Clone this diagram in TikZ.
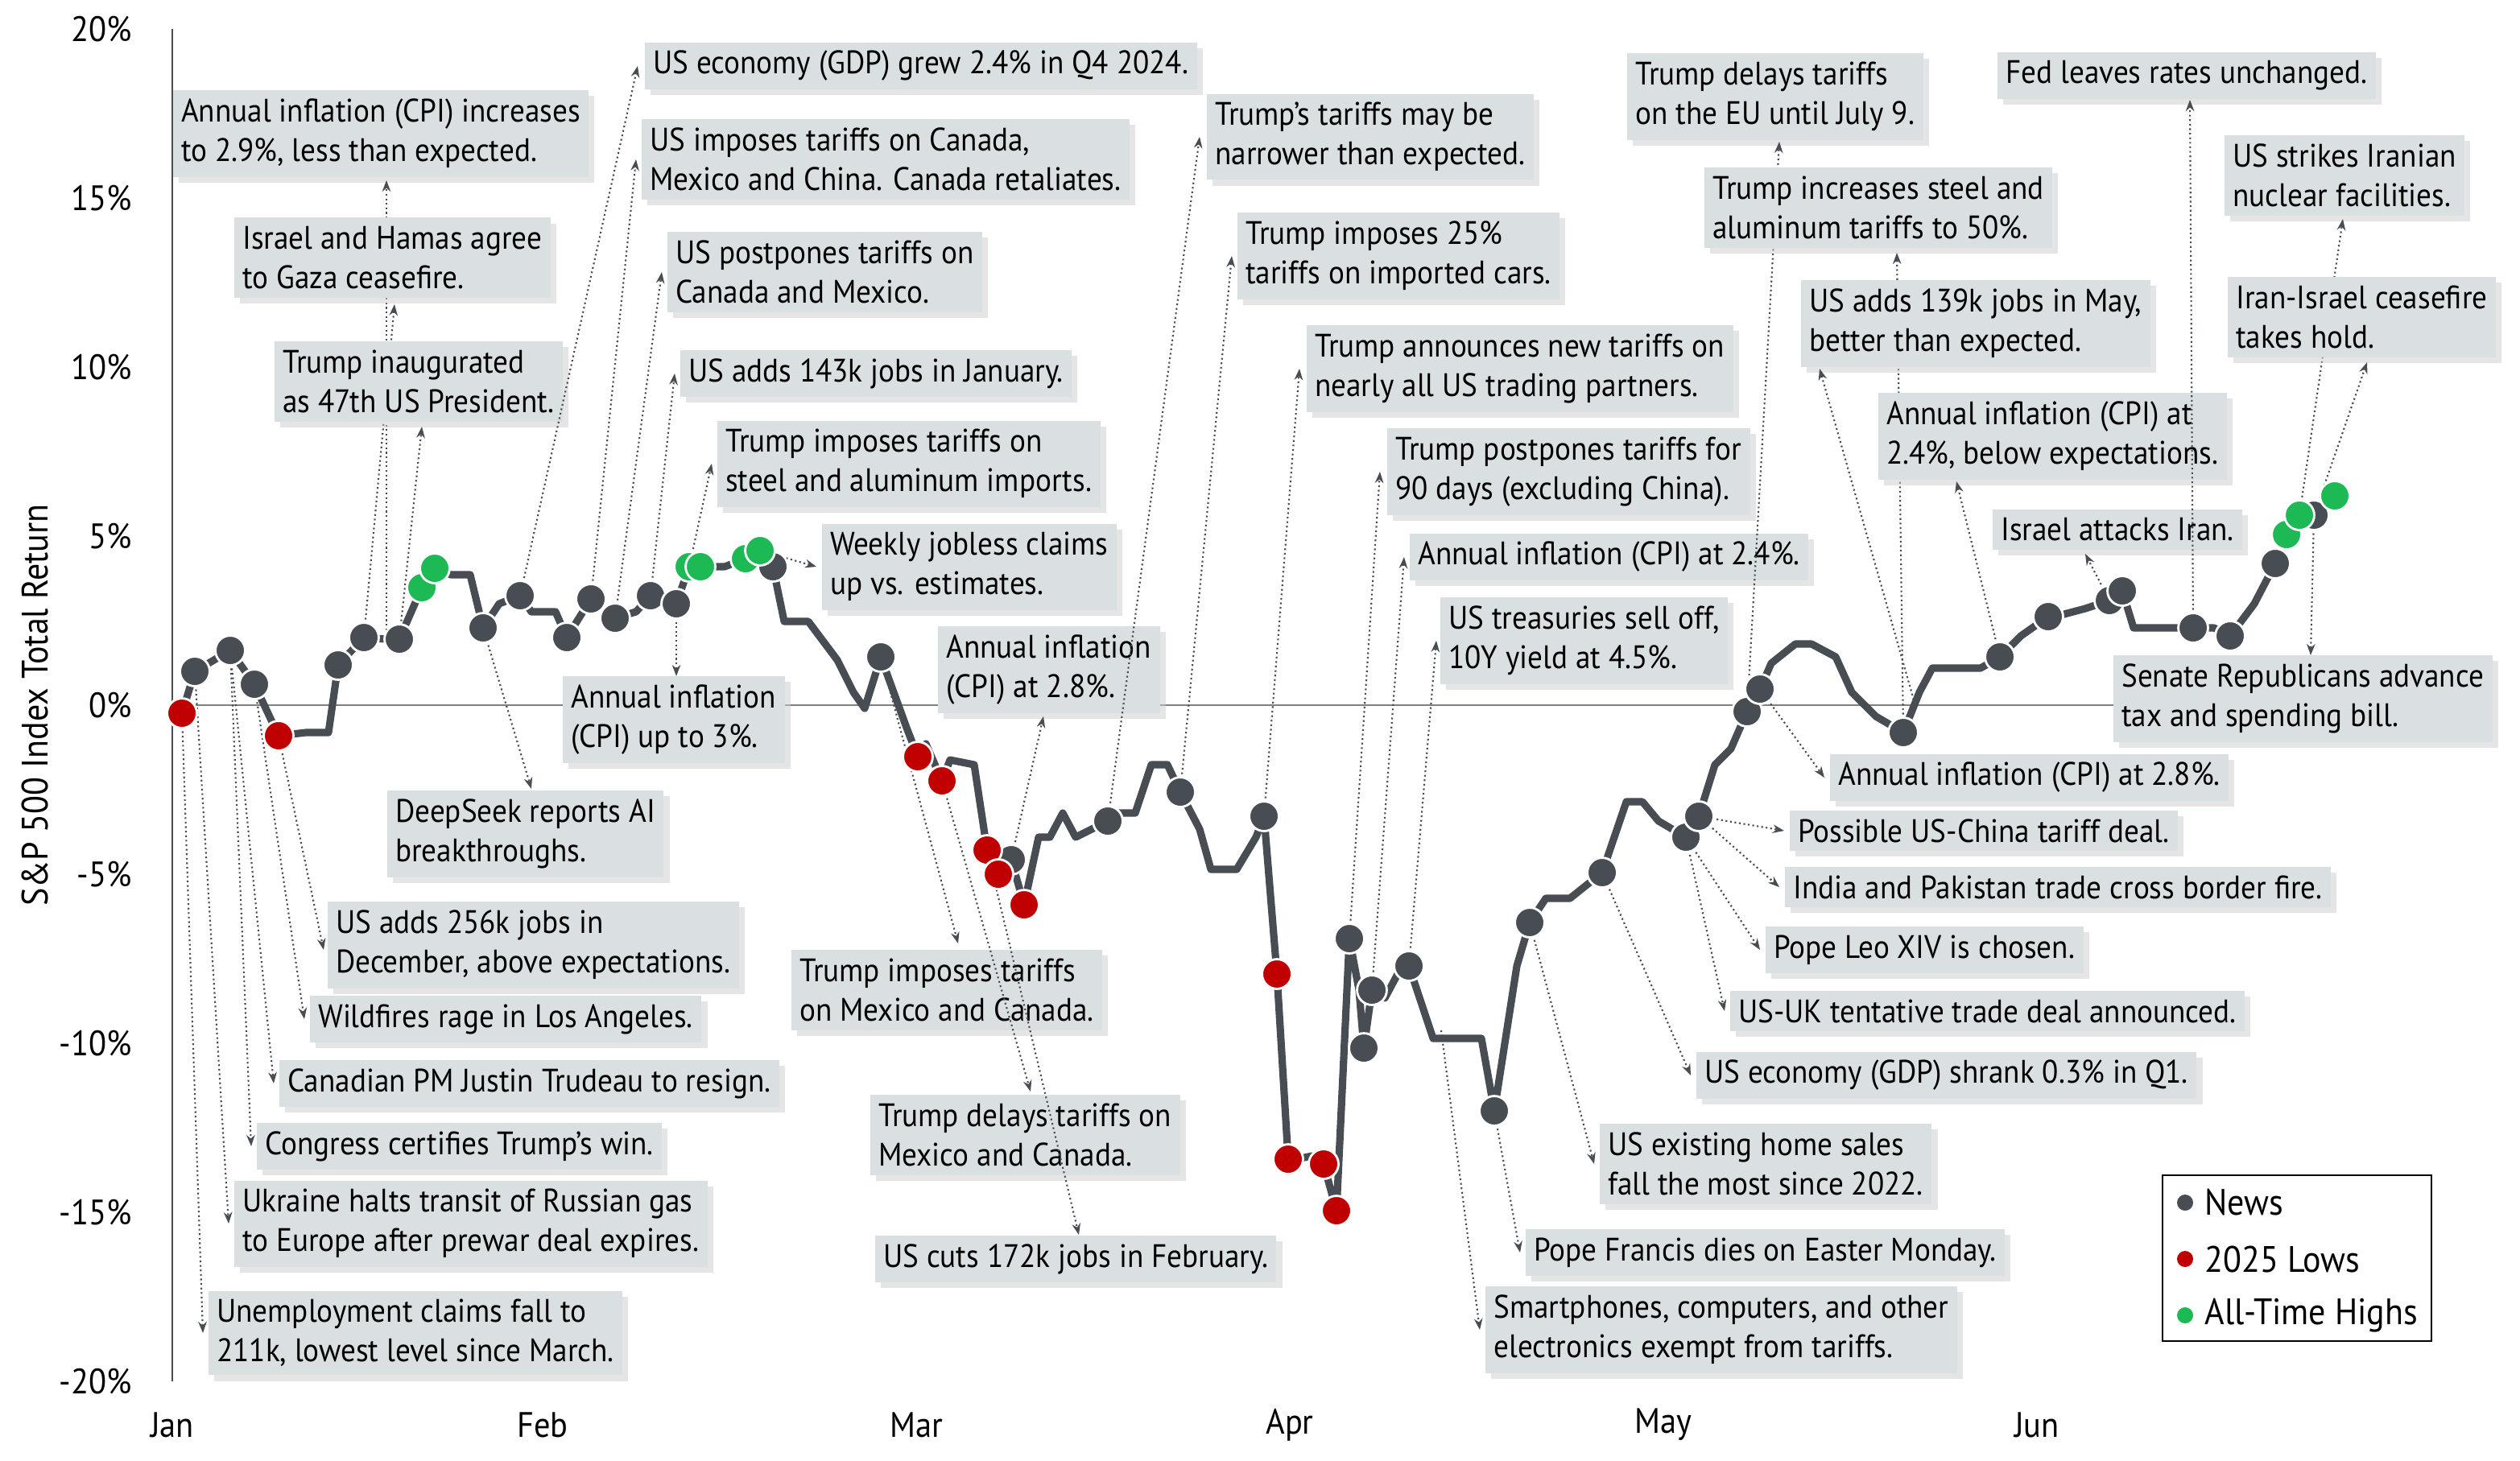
\documentclass[tikz,border=0pt]{standalone}
\usepackage{fontspec}
\setmainfont[FakeStretch=0.92]{PT Sans}
\usepackage{tikz}
\usetikzlibrary{shadows,arrows.meta}
\definecolor{boxgray}{HTML}{DADFE1}
\definecolor{linegray}{HTML}{474D52}
\definecolor{lowred}{HTML}{C00000}
\definecolor{highgreen}{HTML}{1DB954}
\tikzset{
  callout/.style={anchor=west, fill=boxgray, align=left, inner sep=3pt,
    font=\fontsize{11.5}{14}\selectfont, drop shadow={shadow xshift=2pt, shadow yshift=-2pt, fill=gray!40}},
  conn/.style={densely dotted, linegray, line width=0.6pt, -{Stealth[length=4pt]}},
  dotnews/.style={circle, fill=linegray, draw=white, line width=0.8pt, inner sep=0pt, minimum size=10.5pt},
  dotlow/.style={dotnews, fill=lowred},
  dothigh/.style={dotnews, fill=highgreen}
}
\begin{document}
\begin{tikzpicture}[x=0.02cm, y=-0.02cm]
    \useasboundingbox (0,0) rectangle (1565,907);
    % axes
    \draw[gray, line width=0.4pt] (107,438) -- (1480,438);
    \draw[linegray, line width=0.6pt] (107,18) -- (107,858);
    \foreach \v/\yy in {20/18, 15/123, 10/228, 5/333, 0/438, -5/543, -10/648, -15/753, -20/858}
      \node[anchor=east, font=\fontsize{12.5}{14}\selectfont] (t\v) at (88,\yy) {\v\%};
    \foreach \m/\xx in {Jan/107, Feb/337, Mar/569, Apr/801, May/1033, Jun/1265}
      \node[font=\fontsize{12.5}{14}\selectfont] (m\m) at (\xx,885) {\m};
    \node[rotate=90, font=\fontsize{13}{14}\selectfont] (ytitle) at (22,438) {S\&P 500 Index Total Return};

    % callouts
    \foreach \nm/\bx/\by/\txt/\dx/\dy/\ex/\ey in {
      a/107/83/{Annual inflation (CPI) increases\\to 2.9\%, less than expected.}/240/397/240/112,
      b/145/160/{Israel and Hamas agree\\to Gaza ceasefire.}/226/396/245/189,
      c/170/237/{Trump inaugurated\\as 47th US President.}/248/397/262/265,
      d/400/41/{US economy (GDP) grew 2.4\% in Q4 2024.}/323/370/396/41,
      e/398/99/{US imposes tariffs on Canada,\\Mexico and China. Canada retaliates.}/367/372/395/99,
      f/414/169/{US postpones tariffs on\\Canada and Mexico.}/382/384/411/169,
      g/422/232/{US adds 143k jobs in January.}/404/370/419/232,
      h/445/288/{Trump imposes tariffs on\\steel and aluminum imports.}/428/352/442/288,
      i/510/352/{Weekly jobless claims\\up vs. estimates.}/472/342/507/352,
      j/349/447/{Annual inflation\\(CPI) up to 3\%.}/420/375/420/420,
      k/240/518/{DeepSeek reports AI\\breakthroughs.}/300/390/330/490,
      l/582/416/{Annual inflation\\(CPI) at 2.8\%.}/628/534/648/445,
      n/749/85/{Trump's tariffs may be\\narrower than expected.}/688/510/745/85,
      o/768/159/{Trump imposes 25\%\\tariffs on imported cars.}/733/492/765/159,
      p/811/229/{Trump announces new tariffs on\\nearly all US trading partners.}/785/507/807/229,
      q/861/293/{Trump postpones tariffs for\\90 days (excluding China).}/838/583/857/293,
      r/875/346/{Annual inflation (CPI) at 2.4\%.}/852/615/872/346,
      s/894/398/{US treasuries sell off,\\10Y yield at 4.5\%.}/875/600/892/398,
      u/491/615/{Trump imposes tariffs\\on Mexico and Canada.}/547/408/595/586,
      v/540/705/{Trump delays tariffs on\\Mexico and Canada.}/585/485/640/678,
      w/543/782/{US cuts 172k jobs in February.}/613/528/670/767,
      x/203/587/{US adds 256k jobs in\\December, above expectations.}/173/457/201/590,
      y/192/633/{Wildfires rage in Los Angeles.}/158/425/189/633,
      z/173/673/{Canadian PM Justin Trudeau to resign.}/143/404/170/673,
      A/159/712/{Congress certifies Trump's win.}/143/404/156/712,
      B/145/760/{Ukraine halts transit of Russian gas\\to Europe after prewar deal expires.}/121/417/142/760,
      C/129/828/{Unemployment claims fall to\\211k, lowest level since March.}/113/443/126/828,
      D/922/826/{Smartphones, computers, and other\\electronics exempt from tariffs.}/895/640/919/826,
      E/947/778/{Pope Francis dies on Easter Monday.}/928/690/944/778,
      F/993/723/{US existing home sales\\fall the most since 2022.}/950/573/990/723,
      G/1053/668/{US economy (GDP) shrank 0.3\% in Q1.}/995/542/1050/668,
      H/1074/628/{US-UK tentative trade deal announced.}/1047/520/1071/628,
      I/1096/590/{Pope Leo XIV is chosen.}/1047/520/1093/590,
      J/1108/551/{India and Pakistan trade cross border fire.}/1055/507/1105/551,
      K/1111/516/{Possible US-China tariff deal.}/1055/507/1108/516,
      L/1136/483/{Annual inflation (CPI) at 2.8\%.}/1093/428/1133/483,
      M/1010/60/{Trump delays tariffs\\on the EU until July 9.}/1085/442/1105/88,
      N/1058/129/{Trump increases steel and\\aluminum tariffs to 50\%.}/1182/455/1178/157,
      O/1118/201/{US adds 139k jobs in May,\\better than expected.}/1190/440/1130/229,
      P/1166/271/{Annual inflation (CPI) at\\2.4\%, below expectations.}/1242/408/1215/299,
      Q/1237/329/{Israel attacks Iran.}/1310/373/1295/344,
      R/1240/47/{Fed leaves rates unchanged.}/1362/390/1360/62,
      S/1381/109/{US strikes Iranian\\nuclear facilities.}/1428/320/1455/136,
      T/1383/197/{Iran-Israel ceasefire\\takes hold.}/1437/320/1470/225,
      U/1312/434/{Senate Republicans advance\\tax and spending bill.}/1437/320/1435/407}
    {
      \node[callout] (c\nm) at (\bx,\by) {\txt};
      \coordinate (d\nm) at (\dx,\dy);
      \coordinate (e\nm) at (\ex,\ey);
      \draw[conn] (d\nm) -- (e\nm);
    }

    % index line
    \draw[linegray, line width=2.6pt, line join=round]
      (113,443) -- (121,417) -- (143,404) -- (158,425) -- (173,457) -- (190,455) -- (204,455)
      -- (210,413) -- (226,396) -- (240,397) -- (248,397) -- (262,365) -- (270,353) -- (280,357)
      -- (292,357) -- (300,390) -- (310,375) -- (323,370) -- (330,380) -- (345,380) -- (352,396)
      -- (367,372) -- (382,384) -- (395,380) -- (404,370) -- (420,375) -- (428,352) -- (435,352)
      -- (450,352) -- (463,347) -- (472,342) -- (480,352) -- (487,386) -- (502,386) -- (520,410)
      -- (530,430) -- (537,440) -- (547,408) -- (555,430) -- (563,452) -- (570,470) -- (575,462)
      -- (585,485) -- (590,472) -- (605,475) -- (613,528) -- (620,543) -- (628,534) -- (636,562)
      -- (645,520) -- (652,520) -- (660,505) -- (668,520) -- (678,515) -- (688,510) -- (695,505)
      -- (705,505) -- (715,475) -- (725,475) -- (733,492) -- (745,515) -- (752,540) -- (768,540)
      -- (780,520) -- (785,507) -- (793,605) -- (800,720) -- (805,720) -- (815,718) -- (822,723)
      -- (830,752) -- (838,583) -- (844,615) -- (847,651) -- (852,615) -- (860,620) -- (868,605)
      -- (875,600) -- (885,630) -- (890,645) -- (910,645) -- (920,645) -- (928,690) -- (942,600)
      -- (950,573) -- (960,558) -- (975,558) -- (985,550) -- (995,542) -- (1010,498) -- (1020,498)
      -- (1030,510) -- (1047,520) -- (1055,507) -- (1065,475) -- (1075,465) -- (1085,442)
      -- (1093,428) -- (1100,412) -- (1115,400) -- (1125,400) -- (1140,408) -- (1150,430)
      -- (1165,445) -- (1182,455) -- (1192,430) -- (1200,415) -- (1230,415) -- (1242,408)
      -- (1255,395) -- (1272,383) -- (1280,382) -- (1295,378) -- (1310,373) -- (1318,367)
      -- (1325,390) -- (1362,390) -- (1375,390) -- (1385,395) -- (1400,375) -- (1413,350)
      -- (1420,332) -- (1428,320) -- (1437,320) -- (1450,308);

    % markers
    \foreach \px/\py [count=\i] in {121/417, 143/404, 158/425, 210/413, 226/396, 248/397, 300/390,
        323/370, 352/396, 367/372, 382/384, 404/370, 420/375, 480/352, 547/408, 628/534, 688/510,
        733/492, 785/507, 838/583, 847/651, 852/615, 875/600, 928/690, 950/573, 995/542, 1047/520,
        1055/507, 1085/442, 1093/428, 1182/455, 1242/408, 1272/383, 1310/373, 1318/367, 1362/390,
        1385/395, 1413/350, 1437/320}
      \node[dotnews] (news\i) at (\px,\py) {};
    \foreach \px/\py [count=\i] in {113/443, 173/457, 570/470, 585/485, 613/528, 620/543, 636/562,
        793/605, 800/720, 822/723, 830/752}
      \node[dotlow] (low\i) at (\px,\py) {};
    \foreach \px/\py [count=\i] in {262/365, 270/353, 428/352, 435/352, 463/347, 472/342, 1420/332,
        1428/320, 1450/308}
      \node[dothigh] (high\i) at (\px,\py) {};

    % legend
    \draw[black, line width=0.6pt, fill=white] (1343,730) rectangle (1510,833);
    \foreach \lb/\col/\yy in {News/linegray/747, 2025 Lows/lowred/782, All-Time Highs/highgreen/817} {
      \fill[\col] (1357,\yy) circle (5);
      \node[anchor=west, font=\fontsize{13}{14}\selectfont] (leg\yy) at (1363,\yy) {\lb};
    }
\end{tikzpicture}
\end{document}
